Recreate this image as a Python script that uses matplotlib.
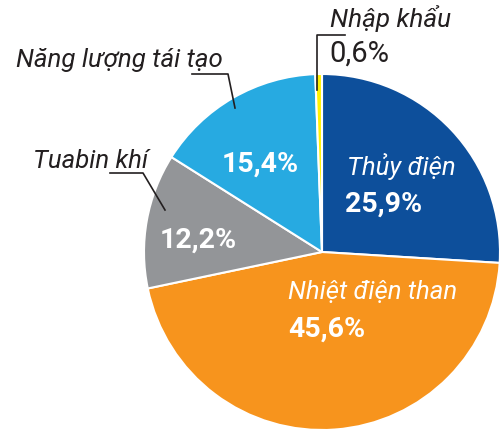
import matplotlib.pyplot as plt

# co cau nguon dien
nhan = ["Thủy điện", "Nhiệt điện than", "Tuabin khí", "Năng lượng tái tạo", "Nhập khẩu"]
ty_le = [25.9, 45.6, 12.2, 15.4, 0.6]
mau = ["#0d4f9b", "#f7941d", "#939598", "#27aae1", "#fff200"]
nhan_pt = ["25,9%", "45,6%", "12,2%", "15,4%", "0,6%"]

W, H = 501, 432
fig = plt.figure(figsize=(W / 100, H / 100), dpi=100)
ax = fig.add_axes([0, 0, 1, 1])

ax.pie(ty_le, colors=mau, startangle=90, counterclock=False,
       center=(322, H - 252), radius=178,
       wedgeprops=dict(edgecolor="white", linewidth=1.5))
ax.set_xlim(0, W)
ax.set_ylim(0, H)
ax.set_aspect("equal")
ax.axis("off")


def y(v):
    return H - v


den = "#231f20"
it = dict(family="Roboto", style="italic", va="baseline", ha="left")
bd = dict(family="Roboto", weight="bold", va="baseline", ha="left", color="white")

# nhan ben trong
ax.text(347, y(175), nhan[0], color="white", fontsize=18.5, **it)
ax.text(345, y(212), nhan_pt[0], fontsize=20.5, **bd)
ax.text(288, y(299), nhan[1], color="white", fontsize=18.5, **it)
ax.text(288, y(337), nhan_pt[1], fontsize=20.5, **bd)
ax.text(160, y(248), nhan_pt[2], fontsize=20.5, **bd)
ax.text(222, y(172), nhan_pt[3], fontsize=20.5, **bd)

# nhan ben ngoai
ax.text(330, y(27), nhan[4], color=den, fontsize=18.8, **it)
ax.text(329, y(62), nhan_pt[4], color=den, fontsize=21, family="Roboto",
        va="baseline", ha="left")
ax.text(16, y(67), nhan[3], color=den, fontsize=18.6, **it)
ax.text(33, y(168), nhan[2], color=den, fontsize=18.5, **it)

# duong chi dan
ax.plot([317, 317, 345], [y(90), y(35), y(35)], color=den, lw=1.2)
ax.plot([192, 228, 235], [y(74), y(74), y(108)], color=den, lw=1.2)
ax.plot([110, 143, 165], [y(173), y(173), y(210)], color=den, lw=1.2)

fig.savefig("out.png", dpi=100)
